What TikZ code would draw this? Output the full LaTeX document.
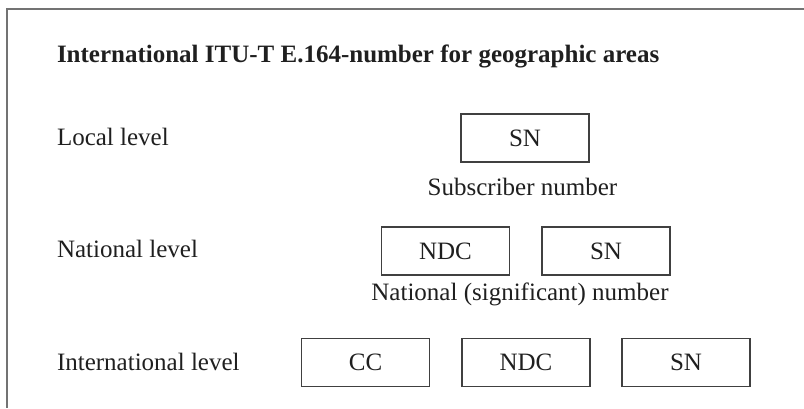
\documentclass[tikz,border=0pt]{standalone}
\usepackage{fontspec}
\setmainfont{Liberation Serif}
\begin{document}
\begin{tikzpicture}[x=1pt,y=-1pt,
  every node/.style={inner sep=0pt,outer sep=0pt,text=black!88,font=\fontsize{25}{28}\selectfont},
  lvl/.style={anchor=base west},
  numcaption/.style={anchor=base},
  numbox/.style={draw=black!75,line width=1.6pt,minimum width=128pt,minimum height=48pt},
  frameline/.style={draw=black!55,line width=2pt}]
\useasboundingbox (0,0) rectangle (804,408);
% frame edges
\coordinate (ftl) at (7,8.5);
\coordinate (ftr) at (804,8.5);
\coordinate (fbl) at (7,408);
\draw[frameline] (ftr) -- (ftl) -- (fbl);
% heading
\node[lvl,font=\fontsize{25}{28}\selectfont\bfseries] (title) at (57,62) {International ITU-T E.164-number for geographic areas};
% level labels
\node[lvl] (local) at (57,145) {Local level};
\node[lvl] (national) at (57,257) {National level};
\node[lvl] (intl) at (57,370) {International level};
% local level
\node[numbox] (snL) at (525,138) {SN};
\node[numcaption] (subscr) at (522.5,195) {Subscriber number};
% national level
\node[numbox] (ndcN) at (445.5,251) {NDC};
\node[numbox] (snN) at (606,251) {SN};
\node[numcaption] (natnum) at (520,300) {National (significant) number};
% international level
\node[numbox] (ccI) at (365.5,362.5) {CC};
\node[numbox] (ndcI) at (526,362.5) {NDC};
\node[numbox] (snI) at (686,362.5) {SN};
\end{tikzpicture}
\end{document}
